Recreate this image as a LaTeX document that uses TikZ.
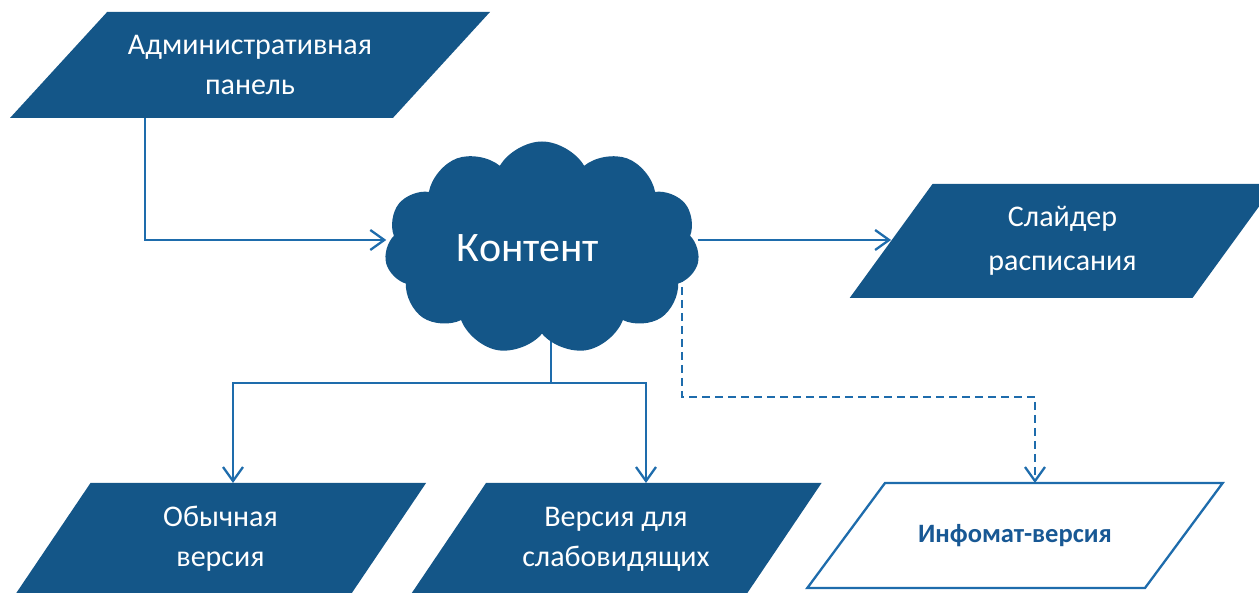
\documentclass[tikz,border=0pt]{standalone}
\usepackage{fontspec}
\setmainfont{Carlito}
\usetikzlibrary{shapes.geometric,shapes.symbols,arrows.meta,backgrounds}
\definecolor{boxblue}{RGB}{20,86,136}
\definecolor{lineblue}{RGB}{30,108,172}
\definecolor{txtblue}{RGB}{24,88,148}
\newcommand{\paratext}[2]{\parbox[c][#1][c]{260pt}{\centering #2}}
\tikzset{
  para/.style 2 args={trapezium, trapezium left angle=#1, trapezium right angle=#2,
    trapezium stretches body, inner sep=0pt, outer sep=0pt},
  darkbox/.style={fill=boxblue, text=white, font=\fontsize{30}{40}\selectfont},
  lightbox/.style={fill=white, draw=lineblue, line width=2.3pt, text=txtblue,
    font=\bfseries\fontsize{26.5}{32}\selectfont},
  conn/.style={draw=lineblue, line width=2.3pt},
  arr/.style={conn, -{Straight Barb[length=14pt,width=20pt,line width=2.3pt]}},
  dashedarr/.style={arr, dash pattern=on 8pt off 5pt},
}
\begin{document}
\begin{tikzpicture}[x=1pt,y=1pt]
\clip (0,0) rectangle (1259,593);
% nodes
\node[para={47.5}{132.5}, darkbox, minimum width=480pt] (admin) at (250,528)
  {\paratext{106pt}{Административная\\панель}};
\node[cloud, cloud puffs=11, cloud puff arc=120, aspect=1.48, fill=boxblue,
  minimum width=315pt, minimum height=213pt, inner sep=0pt, text=white,
  font=\fontsize{42}{42}\selectfont] (cloud) at (542,345) {\kern-28pt Контент};
\node[para={54}{126}, darkbox, minimum width=419pt] (slider) at (1062.5,352)
  {\paratext{114pt}{\fontsize{30}{44}\selectfont Слайдер\\расписания}};
\node[para={56}{124}, darkbox, minimum width=409pt] (obych) at (220.5,54)
  {\paratext{112pt}{Обычная\\версия}};
\node[para={56}{124}, darkbox, minimum width=404pt] (versia) at (616,54)
  {\paratext{112pt}{Версия для\\слабовидящих}};
\node[para={53.5}{126.5}, lightbox, minimum width=406pt] (infomat) at (1015,57.5)
  {\paratext{105pt}{Инфомат-версия}};
\coordinate (split) at (551,210);
\coordinate (dcorner) at (1035,196);
% connectors
\begin{scope}[on background layer]
\draw[arr] ([xshift=-105pt]admin.south) |- ([yshift=8pt]cloud.west);
\draw[arr] ([yshift=8pt]cloud.east) -- ([yshift=8pt]cloud.east -| slider.west);
\draw[conn] (cloud.center -| split) -- (split);
\draw[arr] (split) -| ([xshift=12.5pt]obych.north);
\draw[arr] (split) -| ([xshift=30pt]versia.north);
\draw[dashedarr] ([xshift=140pt]cloud.center) |- (dcorner) -- ([xshift=20pt]infomat.north);
\end{scope}
\end{tikzpicture}
\end{document}
